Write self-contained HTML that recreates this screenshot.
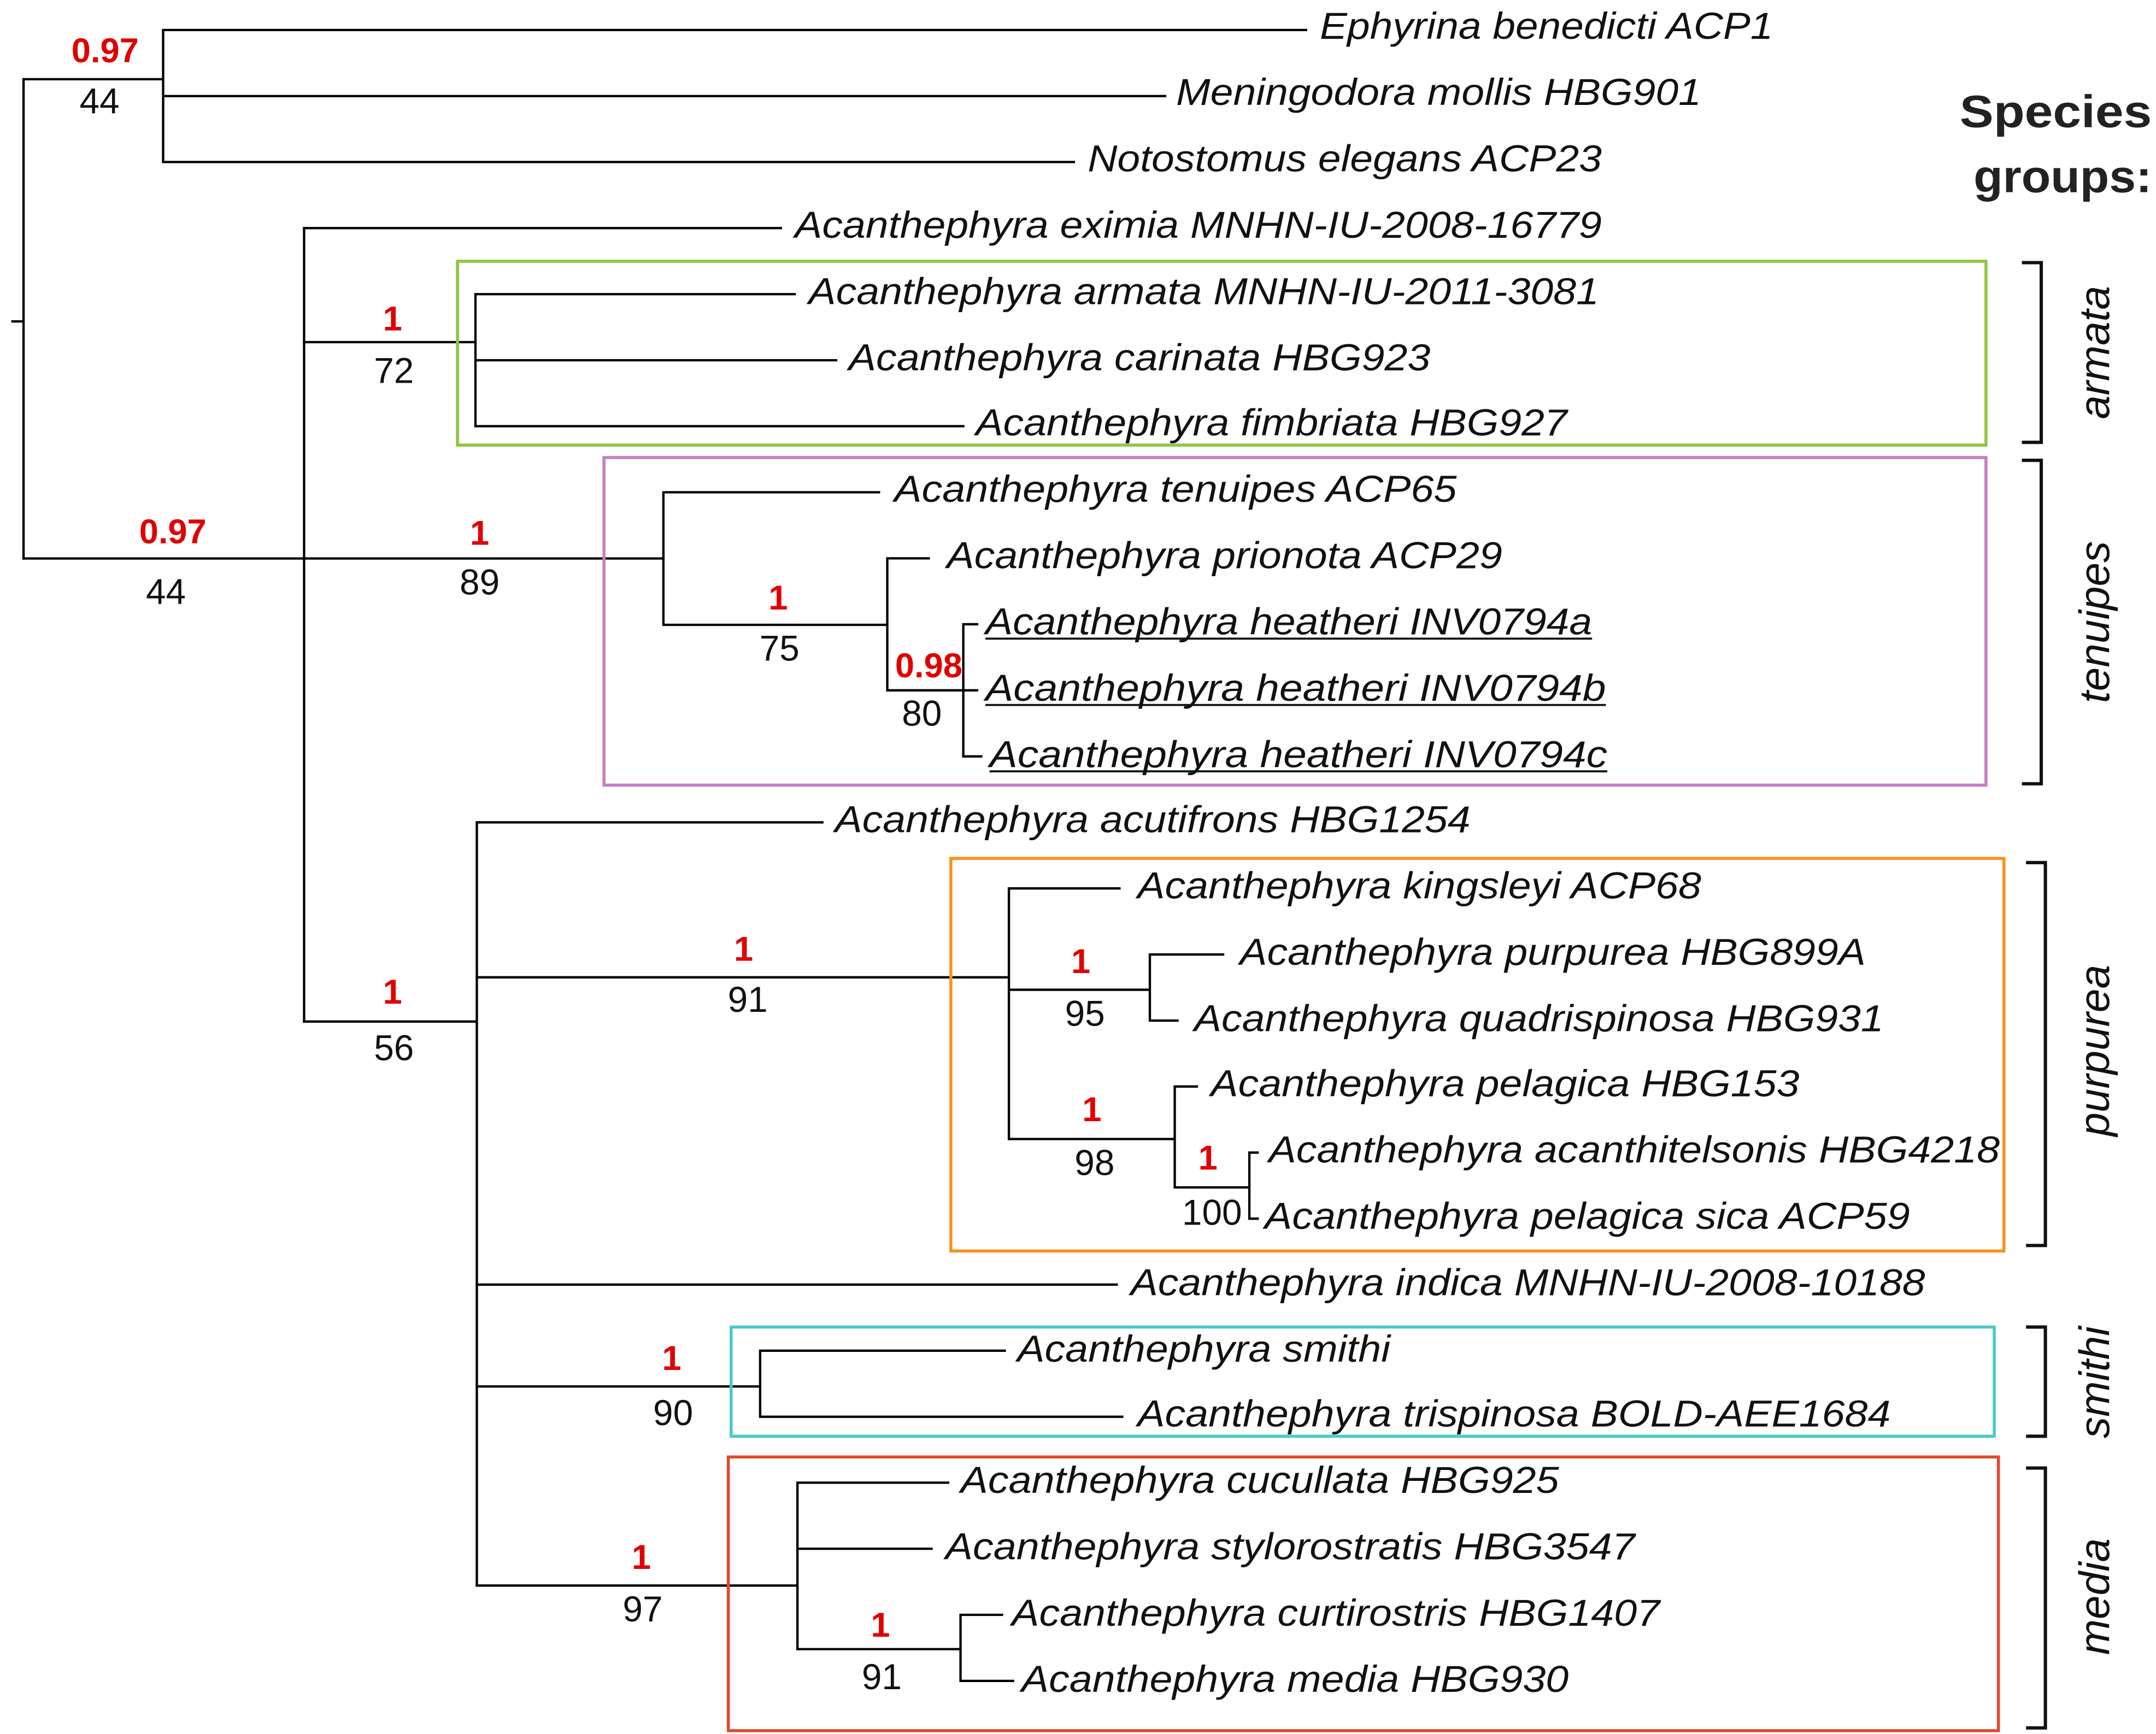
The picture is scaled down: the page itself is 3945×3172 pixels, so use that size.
<!DOCTYPE html>
<html><head><meta charset="utf-8"><style>
html,body{margin:0;padding:0;background:#fff;}
svg{display:block;}
text{font-family:"Liberation Sans",Arial,sans-serif;}
.t{font-size:27px;font-style:italic;fill:#111;}
.r{font-size:25px;font-weight:bold;fill:#e00000;text-anchor:middle;}
.b{font-size:26px;fill:#111;text-anchor:middle;}
.g{font-size:31px;font-style:italic;fill:#111;text-anchor:middle;}
</style></head><body>
<svg width="3945" height="3172" viewBox="0 0 1560 1254.4" xmlns="http://www.w3.org/2000/svg">
<rect width="1560" height="1254.4" fill="#fff"/>
<g stroke="#000" stroke-width="1.7" fill="none" stroke-linecap="square">
<path d="M9 232.5H17M17 57.3V404M17 57.3H118M118 21.7V117.2M118 21.7H945M118 69.5H843M118 117.2H777"/>
<path d="M17 404H480M220 165V739M220 165H565"/>
<path d="M220 247.5H344M344 212.8V308.3M344 212.8H575M344 260.6H605M344 308.3H697"/>
<path d="M480 356.1V452M480 356.1H636M480 452H642M642 403.9V499.4M642 403.9H672M642 499.4H697M697 451.6V547.2M697 451.6H707M697 499.4H707M697 547.2H710"/>
<path d="M220 739H345M345 594.9V1147M345 594.9H595"/>
<path d="M345 707H730M730 642.7V824M730 642.7H810M730 716H832M832 690.5V738.3M832 690.5H885M832 738.3H852M730 824H850M850 786V859M850 786H866M850 859H904M904 833.8V881.6M904 833.8H910M904 881.6H910"/>
<path d="M345 929.3H808"/>
<path d="M345 1003H550M550 977.1V1024.9M550 977.1H727M550 1024.9H812"/>
<path d="M345 1147H577M577 1072.6V1193M577 1072.6H686M577 1120.4H674M577 1193H695M695 1168.2V1216M695 1168.2H725M695 1216H733"/>
</g>
<g fill="none" stroke-width="2.2">
<rect x="331" y="189" width="1106" height="133" stroke="#8dc63f"/>
<rect x="437" y="331" width="1000" height="237" stroke="#c77dc0"/>
<rect x="688" y="621" width="762" height="284" stroke="#f7931e"/>
<rect x="529" y="960" width="914" height="79" stroke="#4cc9c9"/>
<rect x="527" y="1054" width="919" height="198" stroke="#e0492f"/>
</g>
<g fill="none" stroke="#111" stroke-width="2.4">
<path d="M1463 190H1477V320H1463"/>
<path d="M1463 333H1477V567H1463"/>
<path d="M1466 624H1480V901H1466"/>
<path d="M1466 960H1480V1039H1466"/>
<path d="M1466 1062H1480V1250H1466"/>
</g>
<text class="g" transform="translate(1526 255) rotate(-90)">armata</text>
<text class="g" transform="translate(1526 450) rotate(-90)">tenuipes</text>
<text class="g" transform="translate(1526 760) rotate(-90)">purpurea</text>
<text class="g" transform="translate(1526 1000) rotate(-90)">smithi</text>
<text class="g" transform="translate(1526 1155) rotate(-90)">media</text>
<text x="1418" y="92" font-size="33" font-weight="bold" fill="#222" textLength="139" lengthAdjust="spacingAndGlyphs">Species</text>
<text x="1428" y="139" font-size="33" font-weight="bold" fill="#222" textLength="129" lengthAdjust="spacingAndGlyphs">groups:</text>
<g class="t">
<text x="955" y="28" textLength="328" lengthAdjust="spacingAndGlyphs">Ephyrina benedicti ACP1</text>
<text x="851" y="76" textLength="380" lengthAdjust="spacingAndGlyphs">Meningodora mollis HBG901</text>
<text x="787" y="124" textLength="372" lengthAdjust="spacingAndGlyphs">Notostomus elegans ACP23</text>
<text x="575" y="172" textLength="584" lengthAdjust="spacingAndGlyphs">Acanthephyra eximia MNHN-IU-2008-16779</text>
<text x="585" y="220" textLength="572" lengthAdjust="spacingAndGlyphs">Acanthephyra armata MNHN-IU-2011-3081</text>
<text x="614" y="268" textLength="421" lengthAdjust="spacingAndGlyphs">Acanthephyra carinata HBG923</text>
<text x="706" y="315" textLength="428" lengthAdjust="spacingAndGlyphs">Acanthephyra fimbriata HBG927</text>
<text x="647" y="363" textLength="407" lengthAdjust="spacingAndGlyphs">Acanthephyra tenuipes ACP65</text>
<text x="685" y="411" textLength="402" lengthAdjust="spacingAndGlyphs">Acanthephyra prionota ACP29</text>
<text x="713" y="459" textLength="439" lengthAdjust="spacingAndGlyphs">Acanthephyra heatheri INV0794a</text>
<text x="713" y="507" textLength="449" lengthAdjust="spacingAndGlyphs">Acanthephyra heatheri  INV0794b</text>
<text x="716" y="555" textLength="447" lengthAdjust="spacingAndGlyphs">Acanthephyra heatheri  INV0794c</text>
<text x="604" y="602" textLength="460" lengthAdjust="spacingAndGlyphs">Acanthephyra acutifrons HBG1254</text>
<text x="823" y="650" textLength="408" lengthAdjust="spacingAndGlyphs">Acanthephyra kingsleyi ACP68</text>
<text x="897" y="698" textLength="453" lengthAdjust="spacingAndGlyphs">Acanthephyra purpurea HBG899A</text>
<text x="864" y="746" textLength="499" lengthAdjust="spacingAndGlyphs">Acanthephyra quadrispinosa HBG931</text>
<text x="876" y="793" textLength="426" lengthAdjust="spacingAndGlyphs">Acanthephyra pelagica HBG153</text>
<text x="918" y="841" textLength="529" lengthAdjust="spacingAndGlyphs">Acanthephyra acanthitelsonis HBG4218</text>
<text x="915" y="889" textLength="467" lengthAdjust="spacingAndGlyphs">Acanthephyra pelagica sica ACP59</text>
<text x="818" y="937" textLength="575" lengthAdjust="spacingAndGlyphs">Acanthephyra indica MNHN-IU-2008-10188</text>
<text x="736" y="985" textLength="270" lengthAdjust="spacingAndGlyphs">Acanthephyra smithi</text>
<text x="823" y="1032" textLength="545" lengthAdjust="spacingAndGlyphs">Acanthephyra trispinosa BOLD-AEE1684</text>
<text x="695" y="1080" textLength="433" lengthAdjust="spacingAndGlyphs">Acanthephyra cucullata HBG925</text>
<text x="684" y="1128" textLength="499" lengthAdjust="spacingAndGlyphs">Acanthephyra stylorostratis HBG3547</text>
<text x="732" y="1176" textLength="469" lengthAdjust="spacingAndGlyphs">Acanthephyra curtirostris HBG1407</text>
<text x="739" y="1224" textLength="396" lengthAdjust="spacingAndGlyphs">Acanthephyra media HBG930</text>
</g>
<g stroke="#111" stroke-width="1.5">
<path d="M713 462H1152M713 510H1162M716 558H1163"/>
</g>
<text class="r" x="76" y="45">0.97</text><text class="b" x="72" y="82">44</text>
<text class="r" x="284" y="239">1</text><text class="b" x="285" y="277">72</text>
<text class="r" x="125" y="393">0.97</text><text class="b" x="120" y="437">44</text>
<text class="r" x="347" y="394">1</text><text class="b" x="347" y="430">89</text>
<text class="r" x="563" y="441">1</text><text class="b" x="564" y="478">75</text>
<text class="r" x="672" y="490">0.98</text><text class="b" x="667" y="525">80</text>
<text class="r" x="538" y="695">1</text><text class="b" x="541" y="732">91</text>
<text class="r" x="284" y="726">1</text><text class="b" x="285" y="767">56</text>
<text class="r" x="782" y="704">1</text><text class="b" x="785" y="742">95</text>
<text class="r" x="790" y="811">1</text><text class="b" x="792" y="850">98</text>
<text class="r" x="874" y="846">1</text><text class="b" x="877" y="886">100</text>
<text class="r" x="486" y="991">1</text><text class="b" x="487" y="1031">90</text>
<text class="r" x="464" y="1135">1</text><text class="b" x="465" y="1173">97</text>
<text class="r" x="637" y="1184">1</text><text class="b" x="638" y="1222">91</text>
</svg>
</body></html>
